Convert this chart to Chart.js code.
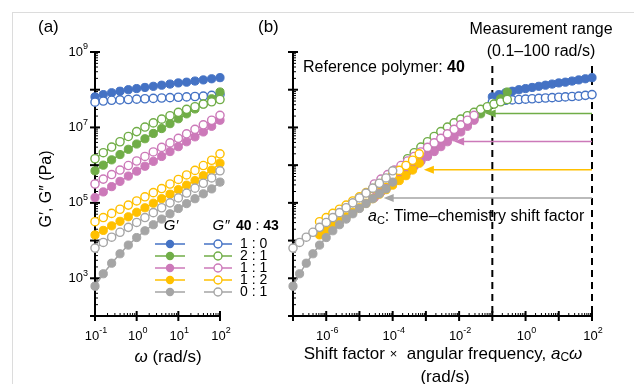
<!DOCTYPE html>
<html>
<head>
<meta charset="utf-8">
<script src="https://cdn.jsdelivr.net/npm/chart.js@4.4.0/dist/chart.umd.min.js"></script>
<style>
  html, body { margin: 0; padding: 0; background: #fff; }
  #wrap { position: relative; width: 634px; height: 384px; overflow: hidden; }
  #wrap canvas { position: absolute; left: 0; top: 0; }
</style>
</head>
<body>
<div id="wrap">
  <canvas id="chartA" width="634" height="384"></canvas>
  <canvas id="chartB" width="634" height="384"></canvas>
</div>
<script>
// ---- data
const omega = [0.1, 0.158, 0.251, 0.398, 0.631, 1, 1.58, 2.51, 3.98, 6.31, 10, 15.8, 25.1, 39.8, 63.1, 100];

// log10 G' and G'' in Pa, one pair per blend ratio 40 : 43
const gp_10  = [7.81, 7.87, 7.92, 7.96, 8.00, 8.03, 8.06, 8.09, 8.12, 8.15, 8.18, 8.20, 8.23, 8.26, 8.29, 8.32];
const gpp_10 = [7.67, 7.70, 7.72, 7.73, 7.74, 7.75, 7.76, 7.77, 7.78, 7.79, 7.80, 7.81, 7.82, 7.83, 7.85, 7.87];
const gp_21  = [5.85, 6.00, 6.14, 6.28, 6.42, 6.56, 6.70, 6.84, 6.97, 7.10, 7.23, 7.36, 7.49, 7.62, 7.76, 7.94];
const gpp_21 = [6.17, 6.33, 6.48, 6.62, 6.76, 6.89, 7.01, 7.12, 7.22, 7.31, 7.40, 7.48, 7.55, 7.62, 7.68, 7.74];
const gp_11  = [5.14, 5.29, 5.43, 5.57, 5.71, 5.84, 5.97, 6.10, 6.23, 6.36, 6.49, 6.62, 6.75, 6.88, 7.03, 7.19];
const gpp_11 = [5.50, 5.63, 5.75, 5.87, 5.99, 6.11, 6.23, 6.35, 6.47, 6.59, 6.71, 6.83, 6.95, 7.07, 7.19, 7.32];
const gp_12  = [4.15, 4.27, 4.39, 4.51, 4.63, 4.75, 4.87, 4.99, 5.11, 5.23, 5.35, 5.47, 5.59, 5.72, 5.87, 6.05];
const gpp_12 = [4.50, 4.61, 4.72, 4.83, 4.94, 5.05, 5.16, 5.27, 5.38, 5.50, 5.62, 5.74, 5.86, 5.99, 6.13, 6.30];
const gp_01  = [2.79, 3.12, 3.40, 3.65, 3.88, 4.08, 4.26, 4.42, 4.57, 4.71, 4.85, 4.98, 5.11, 5.24, 5.37, 5.55];
const gpp_01 = [3.80, 3.95, 4.09, 4.22, 4.35, 4.48, 4.61, 4.74, 4.87, 5.00, 5.13, 5.26, 5.39, 5.52, 5.66, 5.85];

const ratioLabels = ['1 : 0', '2 : 1', '1 : 1', '1 : 2', '0 : 1'];
const seriesColors = ['#4472C4', '#70AD47', '#CC79B9', '#FFC000', '#A5A5A5'];
// log10 of the time-chemistry shift factor aC (reference 40)
const shiftLog = [0, -2.55, -3.55, -5.2, -6];

// arrows in panel (b): tip x (log10) and height (log10 Pa), all start at 100 rad/s
const arrowTipLogX = [-1.2, -2.15, -3.06, -4.27];
const arrowLogY = [7.37, 6.63, 5.88, 5.13];
const measureRange = [0.1, 100];

// tick labels (exponents)
const yTickExp = [3, 5, 7, 9];
const xTickExpA = [-1, 0, 1, 2];
const xTickExpB = [-6, -4, -2, 0, 2];

const series = [
	{ gp: gp_10, gpp: gpp_10 },
	{ gp: gp_21, gpp: gpp_21 },
	{ gp: gp_11, gpp: gpp_11 },
	{ gp: gp_12, gpp: gpp_12 },
	{ gp: gp_01, gpp: gpp_01 }
];

const FONT = '"Liberation Sans", Arial, sans-serif';

// ---- helpers
function rich( ctx, parts, x, y, align ) {
	let w = 0;
	parts.forEach( ( p ) => {
		ctx.font = p.f;
		p.w = ctx.measureText( p.t ).width;
		w += p.w;
	} );
	let cx = x;
	if ( align === 'center' ) cx = x - w / 2;
	if ( align === 'right' ) cx = x - w;
	ctx.textAlign = 'left';
	ctx.textBaseline = 'middle';
	parts.forEach( ( p ) => {
		ctx.font = p.f;
		ctx.fillText( p.t, cx, y + ( p.dy || 0 ) );
		cx += p.w;
	} );
}

function powParts( e ) {
	return [
		{ t: '10', f: '13px ' + FONT },
		{ t: String( e ), f: '9px ' + FONT, dy: -5 }
	];
}

function seg( ctx, x1, y1, x2, y2 ) {
	ctx.beginPath();
	ctx.moveTo( x1, y1 );
	ctx.lineTo( x2, y2 );
	ctx.stroke();
}

function drawLogAxes( chart, xLabels, yLabels ) {
	const { ctx, chartArea: a, scales: { x, y } } = chart;
	ctx.save();
	ctx.strokeStyle = '#000';
	ctx.fillStyle = '#000';
	ctx.lineWidth = 2;
	seg( ctx, a.left, a.top, a.left, a.bottom + 1 );
	seg( ctx, a.left - 1, a.bottom, a.right + 1, a.bottom );

	const yMin = Math.round( Math.log10( y.min ) );
	const yMax = Math.round( Math.log10( y.max ) );
	for ( let e = yMin; e <= yMax; e++ ) {
		const py = y.getPixelForValue( Math.pow( 10, e ) );
		ctx.lineWidth = 2;
		seg( ctx, a.left - 5, py, a.left + 5, py );
		if ( e < yMax ) {
			ctx.lineWidth = 1;
			for ( let m = 2; m <= 9; m++ ) {
				const pm = y.getPixelForValue( m * Math.pow( 10, e ) );
				seg( ctx, a.left, pm, a.left + 3, pm );
			}
		}
	}
	const xMin = Math.round( Math.log10( x.min ) );
	const xMax = Math.round( Math.log10( x.max ) );
	for ( let e = xMin; e <= xMax; e++ ) {
		const px = x.getPixelForValue( Math.pow( 10, e ) );
		ctx.lineWidth = 2;
		seg( ctx, px, a.bottom - 5, px, a.bottom + 5 );
		if ( e < xMax ) {
			ctx.lineWidth = 1;
			for ( let m = 2; m <= 9; m++ ) {
				const pm = x.getPixelForValue( m * Math.pow( 10, e ) );
				seg( ctx, pm, a.bottom, pm, a.bottom - 3 );
			}
		}
	}
	if ( yLabels ) {
		yLabels.forEach( ( e ) => {
			rich( ctx, powParts( e ), a.left - 7, y.getPixelForValue( Math.pow( 10, e ) ), 'right' );
		} );
	}
	xLabels.forEach( ( e ) => {
		rich( ctx, powParts( e ), x.getPixelForValue( Math.pow( 10, e ) ) + 1, a.bottom + 20, 'center' );
	} );
	ctx.restore();
}

function makeSets( shifted ) {
	const sets = [];
	series.forEach( ( s, i ) => {
		const f = shifted ? Math.pow( 10, shiftLog[ i ] ) : 1;
		const color = seriesColors[ i ];
		const base = {
			showLine: true,
			borderColor: color,
			borderWidth: 1.5,
			pointRadius: 4.1,
			pointHoverRadius: 4.1,
			clip: false
		};
		sets.push( Object.assign( {}, base, {
			data: omega.map( ( w, k ) => ( { x: w * f, y: Math.pow( 10, s.gp[ k ] ) } ) ),
			pointBackgroundColor: color,
			pointBorderColor: color,
			pointBorderWidth: 1
		} ) );
		sets.push( Object.assign( {}, base, {
			data: omega.map( ( w, k ) => ( { x: w * f, y: Math.pow( 10, s.gpp[ k ] ) } ) ),
			pointBackgroundColor: '#fff',
			pointBorderColor: color,
			pointBorderWidth: 1.4
		} ) );
	} );
	// later sets on top
	sets.forEach( ( d, k ) => { d.order = sets.length - k; } );
	return sets;
}

// ---- panel (a)
const panelA = {
	id: 'panelA',
	beforeDatasetsDraw( chart ) {
		const ctx = chart.ctx;
		ctx.save();
		ctx.strokeStyle = '#dcdcdc';
		ctx.lineWidth = 1;
		ctx.strokeRect( 12.5, 12.5, 700, 500 );
		ctx.restore();
		drawLogAxes( chart, xTickExpA, yTickExp );
	},
	afterDraw( chart ) {
		const ctx = chart.ctx;
		ctx.save();
		ctx.fillStyle = '#000';
		rich( ctx, [ { t: '(a)', f: '17px ' + FONT } ], 38, 27, 'left' );
		rich( ctx, [
			{ t: '\u03c9', f: 'italic 17px ' + FONT },
			{ t: ' (rad/s)', f: '17px ' + FONT }
		], 168, 357, 'center' );

		ctx.save();
		ctx.translate( 47, 189 );
		ctx.rotate( -Math.PI / 2 );
		rich( ctx, [ { t: 'G\u2032, G\u2033 (Pa)', f: '16px ' + FONT } ], 0, 0, 'center' );
		ctx.restore();

		// legend
		rich( ctx, [ { t: 'G\u2032', f: 'italic 15px ' + FONT } ], 171, 226, 'center' );
		rich( ctx, [ { t: 'G\u2033', f: 'italic 15px ' + FONT } ], 221, 226, 'center' );
		rich( ctx, [
			{ t: '40', f: 'bold 14px ' + FONT },
			{ t: ' : ', f: '14px ' + FONT },
			{ t: '43', f: 'bold 14px ' + FONT }
		], 236, 226, 'left' );
		ratioLabels.forEach( ( lab, i ) => {
			const ly = 244 + i * 12;
			const c = seriesColors[ i ];
			ctx.strokeStyle = c;
			ctx.lineWidth = 1.5;
			seg( ctx, 155, ly, 185, ly );
			seg( ctx, 204, ly, 232, ly );
			ctx.fillStyle = c;
			ctx.beginPath();
			ctx.arc( 170, ly, 4.2, 0, Math.PI * 2 );
			ctx.fill();
			ctx.fillStyle = '#fff';
			ctx.lineWidth = 1.4;
			ctx.beginPath();
			ctx.arc( 218, ly, 4, 0, Math.PI * 2 );
			ctx.fill();
			ctx.stroke();
			ctx.fillStyle = '#000';
			rich( ctx, [ { t: lab, f: '14px ' + FONT } ], 240, ly, 'left' );
		} );
		ctx.restore();
	}
};

new Chart( document.getElementById( 'chartA' ), {
	type: 'scatter',
	data: { datasets: makeSets( false ) },
	options: {
		responsive: false,
		animation: false,
		events: [],
		layout: { padding: { left: 95, right: 414, top: 52, bottom: 68 } },
		plugins: { legend: { display: false }, tooltip: { enabled: false } },
		scales: {
			x: { type: 'logarithmic', min: 0.1, max: 100, display: false },
			y: { type: 'logarithmic', min: 1e2, max: 1e9, display: false }
		}
	},
	plugins: [ panelA ]
} );

// ---- panel (b)
const panelB = {
	id: 'panelB',
	beforeDatasetsDraw( chart ) {
		const { ctx, chartArea: a, scales: { x, y } } = chart;
		drawLogAxes( chart, xTickExpB, null );
		ctx.save();
		ctx.strokeStyle = '#000';
		ctx.lineWidth = 2;
		ctx.setLineDash( [ 7, 5 ] );
		measureRange.forEach( ( v ) => {
			const px = x.getPixelForValue( v );
			seg( ctx, px, a.top + 14, px, a.bottom );
		} );
		ctx.setLineDash( [] );
		// shift arrows
		const x0 = x.getPixelForValue( measureRange[ 1 ] );
		arrowTipLogX.forEach( ( lx, i ) => {
			const c = seriesColors[ i + 1 ];
			const tip = x.getPixelForValue( Math.pow( 10, lx ) );
			const py = y.getPixelForValue( Math.pow( 10, arrowLogY[ i ] ) );
			ctx.strokeStyle = c;
			ctx.fillStyle = c;
			ctx.lineWidth = 1.5;
			seg( ctx, x0, py, tip + 8, py );
			ctx.beginPath();
			ctx.moveTo( tip, py );
			ctx.lineTo( tip + 10, py - 4 );
			ctx.lineTo( tip + 10, py + 4 );
			ctx.closePath();
			ctx.fill();
		} );
		ctx.restore();
	},
	afterDraw( chart ) {
		const ctx = chart.ctx;
		ctx.save();
		ctx.fillStyle = '#000';
		rich( ctx, [ { t: '(b)', f: '17px ' + FONT } ], 258, 27, 'left' );
		rich( ctx, [ { t: 'Measurement range', f: '16px ' + FONT } ], 541, 30, 'center' );
		rich( ctx, [ { t: '(0.1\u2013100 rad/s)', f: '16px ' + FONT } ], 541, 52, 'center' );
		rich( ctx, [
			{ t: 'Reference polymer: ', f: '16px ' + FONT },
			{ t: '40', f: 'bold 16px ' + FONT }
		], 303, 68, 'left' );
		rich( ctx, [
			{ t: 'a', f: 'italic 16px ' + FONT },
			{ t: 'C', f: '11px ' + FONT, dy: 4 },
			{ t: ': Time\u2013chemistry shift factor', f: '16px ' + FONT }
		], 368, 217, 'left' );
		rich( ctx, [
			{ t: 'Shift factor ', f: '17px ' + FONT },
			{ t: '\u00d7', f: '13px ' + FONT },
			{ t: '  angular frequency, ', f: '17px ' + FONT },
			{ t: 'a', f: 'italic 17px ' + FONT },
			{ t: 'C', f: '12px ' + FONT, dy: 4 },
			{ t: '\u03c9', f: 'italic 17px ' + FONT }
		], 443, 354, 'center' );
		rich( ctx, [ { t: '(rad/s)', f: '17px ' + FONT } ], 445, 377, 'center' );
		ctx.restore();
	}
};

new Chart( document.getElementById( 'chartB' ), {
	type: 'scatter',
	data: { datasets: makeSets( true ) },
	options: {
		responsive: false,
		animation: false,
		events: [],
		layout: { padding: { left: 293, right: 42, top: 52, bottom: 68 } },
		plugins: { legend: { display: false }, tooltip: { enabled: false } },
		scales: {
			x: { type: 'logarithmic', min: 1e-7, max: 100, display: false },
			y: { type: 'logarithmic', min: 1e2, max: 1e9, display: false }
		}
	},
	plugins: [ panelB ]
} );
</script>
</body>
</html>
